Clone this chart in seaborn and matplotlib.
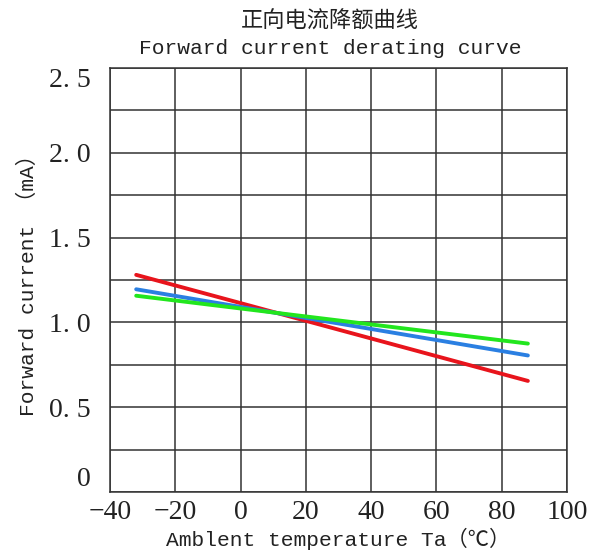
import matplotlib
matplotlib.use("Agg")
import matplotlib.pyplot as plt
from matplotlib.ticker import MultipleLocator
import seaborn as sns
import pandas as pd

# Values (end points of each straight line)
temps = [-32, 88]
red_current = [1.28, 0.655]
blue_current = [1.195, 0.805]
green_current = [1.157, 0.875]

x_ticks = [-40, -20, 0, 20, 40, 60, 80, 100]
y_ticks = [0, 0.5, 1.0, 1.5, 2.0, 2.5]
y_tick_labels = ["0", "0. 5", "1. 0", "1. 5", "2. 0", "2. 5"]

# Long table for seaborn
df = pd.DataFrame({
    "Ta": temps * 3,
    "If": red_current + blue_current + green_current,
    "series": ["red"] * 2 + ["blue"] * 2 + ["green"] * 2,
})
palette = {"red": "#e8141c", "blue": "#2a7fe2", "green": "#22e61e"}

sns.set_style("white")
plt.rcParams["font.family"] = ["Liberation Serif", "DejaVu Sans"]
label_font = ["Liberation Mono", "Noto Sans CJK SC"]

fig = plt.figure(figsize=(5.95, 5.56), dpi=100)
ax = fig.add_axes([0.185, 0.115, 0.768, 0.763])

sns.lineplot(data=df, x="Ta", y="If", hue="series", palette=palette,
             linewidth=2.8, legend=False, ax=ax, zorder=3)

ax.set_xlim(-40, 100)
ax.set_ylim(0, 2.5)
ax.set_xticks(x_ticks)
ax.set_xticklabels([str(t).replace("-", "\u2212") for t in x_ticks])
ax.set_yticks(y_ticks)
ax.set_yticklabels(y_tick_labels)
ax.yaxis.set_minor_locator(MultipleLocator(0.25))
ax.tick_params(axis="both", which="both", length=0, labelsize=20, colors="#222222")
ax.tick_params(axis="x", pad=6)
ax.tick_params(axis="y", pad=14)

# first and last y labels sit inside the frame
ylabs = ax.get_yticklabels()
ylabs[0].set_va("bottom")
ylabs[-1].set_va("top")

ax.grid(True, which="both", color="#333333", linewidth=1.1)
for s in ax.spines.values():
    s.set_color("#333333")
    s.set_linewidth(1.1)

ax.set_xlabel("Amblent temperature Ta（℃）", fontsize=15.3,
              family=label_font, labelpad=2, color="#222222")
ax.set_ylabel("Forward current （mA）", fontsize=15.3,
              family=label_font, labelpad=8, color="#222222")

fig.text(0.555, 0.962, "正向电流降额曲线", ha="center", va="center",
         fontsize=16, family=["Noto Sans CJK SC"], color="#222222")
fig.text(0.555, 0.912, "Forward current derating curve", ha="center", va="center",
         fontsize=15.3, family=["Liberation Mono"], color="#222222")

fig.savefig("out.png", dpi=100, facecolor="white")
